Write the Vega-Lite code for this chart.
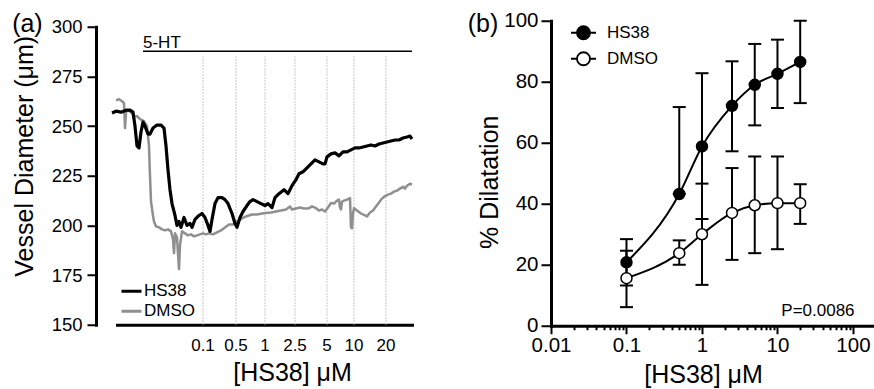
{
  "$schema": "https://vega.github.io/schema/vega-lite/v6.json",
  "padding": {"left": 12, "top": 10.75, "right": 0, "bottom": 0},
  "config": {
    "font": "Liberation Sans",
    "view": {"stroke": null},
    "axis": {"domainColor": "#000", "tickColor": "#000", "labelColor": "#000", "titleColor": "#000", "grid": false, "titleFontWeight": "normal", "domainWidth": 3, "tickWidth": 2, "domainCap": "square"},
    "title": {"fontWeight": "normal", "fontSize": 25, "color": "#000"},
    "legend": {"labelColor": "#000"}
  },
  "datasets": {
    "conc": [
      {"t": 86, "label": "0.1"}, {"t": 119, "label": "0.5"}, {"t": 148, "label": "1"}, {"t": 178, "label": "2.5"},
      {"t": 210, "label": "5"}, {"t": 237, "label": "10"}, {"t": 269, "label": "20"}
    ],
    "agonist": [{"label": "5-HT", "t0": 26, "t1": 295, "v": 287.7}],
    "trace": [
      {"s": "HS38", "t": -5, "v": 256.6}, {"s": "HS38", "t": -1, "v": 257.5}, {"s": "HS38", "t": 4, "v": 257}, {"s": "HS38", "t": 9, "v": 258},
      {"s": "HS38", "t": 13, "v": 258}, {"s": "HS38", "t": 16, "v": 257}, {"s": "HS38", "t": 18, "v": 250}, {"s": "HS38", "t": 20, "v": 240},
      {"s": "HS38", "t": 22, "v": 239}, {"s": "HS38", "t": 24, "v": 247}, {"s": "HS38", "t": 26, "v": 252}, {"s": "HS38", "t": 28, "v": 250},
      {"s": "HS38", "t": 31, "v": 246}, {"s": "HS38", "t": 33, "v": 246}, {"s": "HS38", "t": 36, "v": 249}, {"s": "HS38", "t": 40, "v": 250.5},
      {"s": "HS38", "t": 44, "v": 250.5}, {"s": "HS38", "t": 47, "v": 249}, {"s": "HS38", "t": 49, "v": 240}, {"s": "HS38", "t": 51, "v": 228},
      {"s": "HS38", "t": 53, "v": 218}, {"s": "HS38", "t": 55, "v": 211}, {"s": "HS38", "t": 58, "v": 205}, {"s": "HS38", "t": 60, "v": 200},
      {"s": "HS38", "t": 62, "v": 202}, {"s": "HS38", "t": 64, "v": 199}, {"s": "HS38", "t": 67, "v": 204}, {"s": "HS38", "t": 70, "v": 200},
      {"s": "HS38", "t": 73, "v": 201}, {"s": "HS38", "t": 75, "v": 199}, {"s": "HS38", "t": 78, "v": 203}, {"s": "HS38", "t": 82, "v": 205},
      {"s": "HS38", "t": 85, "v": 206}, {"s": "HS38", "t": 88, "v": 204}, {"s": "HS38", "t": 91, "v": 200}, {"s": "HS38", "t": 93, "v": 197},
      {"s": "HS38", "t": 95, "v": 203}, {"s": "HS38", "t": 98, "v": 211}, {"s": "HS38", "t": 101, "v": 214}, {"s": "HS38", "t": 105, "v": 214},
      {"s": "HS38", "t": 108, "v": 213}, {"s": "HS38", "t": 111, "v": 211}, {"s": "HS38", "t": 115, "v": 206}, {"s": "HS38", "t": 118, "v": 201},
      {"s": "HS38", "t": 120, "v": 199}, {"s": "HS38", "t": 123, "v": 204}, {"s": "HS38", "t": 126, "v": 207}, {"s": "HS38", "t": 130, "v": 210},
      {"s": "HS38", "t": 133, "v": 212}, {"s": "HS38", "t": 136, "v": 213}, {"s": "HS38", "t": 140, "v": 212}, {"s": "HS38", "t": 144, "v": 211},
      {"s": "HS38", "t": 148, "v": 210}, {"s": "HS38", "t": 151, "v": 211}, {"s": "HS38", "t": 155, "v": 209}, {"s": "HS38", "t": 158, "v": 214},
      {"s": "HS38", "t": 162, "v": 216}, {"s": "HS38", "t": 167, "v": 218}, {"s": "HS38", "t": 171, "v": 216}, {"s": "HS38", "t": 175, "v": 220},
      {"s": "HS38", "t": 179, "v": 223}, {"s": "HS38", "t": 182, "v": 226}, {"s": "HS38", "t": 186, "v": 227}, {"s": "HS38", "t": 190, "v": 229},
      {"s": "HS38", "t": 194, "v": 231}, {"s": "HS38", "t": 198, "v": 233}, {"s": "HS38", "t": 202, "v": 232}, {"s": "HS38", "t": 206, "v": 231},
      {"s": "HS38", "t": 208, "v": 231}, {"s": "HS38", "t": 210, "v": 234.5}, {"s": "HS38", "t": 214, "v": 236}, {"s": "HS38", "t": 218, "v": 236.5},
      {"s": "HS38", "t": 222, "v": 235}, {"s": "HS38", "t": 226, "v": 237}, {"s": "HS38", "t": 230, "v": 237}, {"s": "HS38", "t": 234, "v": 238},
      {"s": "HS38", "t": 238, "v": 239}, {"s": "HS38", "t": 242, "v": 239}, {"s": "HS38", "t": 246, "v": 239.5}, {"s": "HS38", "t": 250, "v": 240},
      {"s": "HS38", "t": 254, "v": 240.5}, {"s": "HS38", "t": 258, "v": 240}, {"s": "HS38", "t": 262, "v": 241}, {"s": "HS38", "t": 266, "v": 241.5},
      {"s": "HS38", "t": 270, "v": 242}, {"s": "HS38", "t": 274, "v": 242.5}, {"s": "HS38", "t": 278, "v": 243}, {"s": "HS38", "t": 282, "v": 243},
      {"s": "HS38", "t": 286, "v": 244}, {"s": "HS38", "t": 290, "v": 244.5}, {"s": "HS38", "t": 293, "v": 245}, {"s": "HS38", "t": 295, "v": 243.5},
      {"s": "DMSO", "t": -1, "v": 263}, {"s": "DMSO", "t": 2, "v": 263.5}, {"s": "DMSO", "t": 5, "v": 262.5}, {"s": "DMSO", "t": 7, "v": 261.5},
      {"s": "DMSO", "t": 8, "v": 249}, {"s": "DMSO", "t": 9, "v": 257}, {"s": "DMSO", "t": 11, "v": 258}, {"s": "DMSO", "t": 14, "v": 257},
      {"s": "DMSO", "t": 17, "v": 255}, {"s": "DMSO", "t": 20, "v": 255}, {"s": "DMSO", "t": 23, "v": 253.5}, {"s": "DMSO", "t": 27, "v": 252.5},
      {"s": "DMSO", "t": 30, "v": 250}, {"s": "DMSO", "t": 32, "v": 240}, {"s": "DMSO", "t": 33, "v": 225}, {"s": "DMSO", "t": 34, "v": 212},
      {"s": "DMSO", "t": 36, "v": 205}, {"s": "DMSO", "t": 37, "v": 202}, {"s": "DMSO", "t": 39, "v": 199.5}, {"s": "DMSO", "t": 42, "v": 199},
      {"s": "DMSO", "t": 45, "v": 198}, {"s": "DMSO", "t": 48, "v": 197.5}, {"s": "DMSO", "t": 51, "v": 198}, {"s": "DMSO", "t": 54, "v": 197},
      {"s": "DMSO", "t": 56, "v": 193}, {"s": "DMSO", "t": 57, "v": 186}, {"s": "DMSO", "t": 58, "v": 196}, {"s": "DMSO", "t": 60, "v": 194},
      {"s": "DMSO", "t": 62, "v": 178}, {"s": "DMSO", "t": 63, "v": 190}, {"s": "DMSO", "t": 65, "v": 197}, {"s": "DMSO", "t": 68, "v": 196},
      {"s": "DMSO", "t": 71, "v": 195}, {"s": "DMSO", "t": 74, "v": 195.5}, {"s": "DMSO", "t": 77, "v": 194.5}, {"s": "DMSO", "t": 80, "v": 195},
      {"s": "DMSO", "t": 83, "v": 195.5}, {"s": "DMSO", "t": 86, "v": 196}, {"s": "DMSO", "t": 89, "v": 195.5}, {"s": "DMSO", "t": 92, "v": 196},
      {"s": "DMSO", "t": 96, "v": 195.5}, {"s": "DMSO", "t": 100, "v": 196.5}, {"s": "DMSO", "t": 104, "v": 197.5}, {"s": "DMSO", "t": 108, "v": 199},
      {"s": "DMSO", "t": 112, "v": 200.5}, {"s": "DMSO", "t": 116, "v": 200.5}, {"s": "DMSO", "t": 120, "v": 202}, {"s": "DMSO", "t": 125, "v": 203.5},
      {"s": "DMSO", "t": 129, "v": 204.5}, {"s": "DMSO", "t": 135, "v": 205.5}, {"s": "DMSO", "t": 140, "v": 205.5}, {"s": "DMSO", "t": 145, "v": 206},
      {"s": "DMSO", "t": 149, "v": 206.3}, {"s": "DMSO", "t": 154, "v": 206.5}, {"s": "DMSO", "t": 159, "v": 207}, {"s": "DMSO", "t": 164, "v": 207.5},
      {"s": "DMSO", "t": 169, "v": 208}, {"s": "DMSO", "t": 173, "v": 209.5}, {"s": "DMSO", "t": 175, "v": 208}, {"s": "DMSO", "t": 179, "v": 208.5},
      {"s": "DMSO", "t": 183, "v": 209}, {"s": "DMSO", "t": 187, "v": 208.5}, {"s": "DMSO", "t": 192, "v": 208.7}, {"s": "DMSO", "t": 195, "v": 209.6},
      {"s": "DMSO", "t": 198, "v": 209}, {"s": "DMSO", "t": 202, "v": 207.5}, {"s": "DMSO", "t": 205, "v": 208}, {"s": "DMSO", "t": 208, "v": 207},
      {"s": "DMSO", "t": 211, "v": 209}, {"s": "DMSO", "t": 214, "v": 211.3}, {"s": "DMSO", "t": 217, "v": 211}, {"s": "DMSO", "t": 220, "v": 212.5},
      {"s": "DMSO", "t": 222, "v": 213}, {"s": "DMSO", "t": 223, "v": 209}, {"s": "DMSO", "t": 224, "v": 208}, {"s": "DMSO", "t": 225, "v": 212},
      {"s": "DMSO", "t": 227, "v": 212.5}, {"s": "DMSO", "t": 230, "v": 213}, {"s": "DMSO", "t": 233, "v": 213.8}, {"s": "DMSO", "t": 234, "v": 199},
      {"s": "DMSO", "t": 235, "v": 198.5}, {"s": "DMSO", "t": 236, "v": 206}, {"s": "DMSO", "t": 237, "v": 208.7}, {"s": "DMSO", "t": 240, "v": 207.5},
      {"s": "DMSO", "t": 244, "v": 206}, {"s": "DMSO", "t": 248, "v": 205}, {"s": "DMSO", "t": 250, "v": 204.5}, {"s": "DMSO", "t": 253, "v": 206.5},
      {"s": "DMSO", "t": 256, "v": 207.5}, {"s": "DMSO", "t": 259, "v": 209.5}, {"s": "DMSO", "t": 262, "v": 211.5}, {"s": "DMSO", "t": 265, "v": 213.5},
      {"s": "DMSO", "t": 268, "v": 214.8}, {"s": "DMSO", "t": 271, "v": 215.5}, {"s": "DMSO", "t": 274, "v": 216}, {"s": "DMSO", "t": 277, "v": 217},
      {"s": "DMSO", "t": 280, "v": 217.5}, {"s": "DMSO", "t": 283, "v": 218.5}, {"s": "DMSO", "t": 286, "v": 219.5}, {"s": "DMSO", "t": 288, "v": 218.5},
      {"s": "DMSO", "t": 290, "v": 220}, {"s": "DMSO", "t": 293, "v": 221}, {"s": "DMSO", "t": 295, "v": 220.5}
    ],
    "dose": [
      {"s": "HS38", "c": 0.1, "m": 20.8, "lo": 13.2, "hi": 28.4},
      {"s": "HS38", "c": 0.5, "m": 43.2, "lo": 43.2, "hi": 71.7},
      {"s": "HS38", "c": 1, "m": 58.8, "lo": 35, "hi": 82.8},
      {"s": "HS38", "c": 2.5, "m": 72.1, "lo": 57.2, "hi": 86.7},
      {"s": "HS38", "c": 5, "m": 79, "lo": 65.7, "hi": 92.4},
      {"s": "HS38", "c": 10, "m": 82.6, "lo": 71.4, "hi": 93.8},
      {"s": "HS38", "c": 20, "m": 86.5, "lo": 73, "hi": 100},
      {"s": "DMSO", "c": 0.1, "m": 15.6, "lo": 6.1, "hi": 24.6},
      {"s": "DMSO", "c": 0.5, "m": 23.8, "lo": 20, "hi": 28},
      {"s": "DMSO", "c": 1, "m": 30, "lo": 13.4, "hi": 46.6},
      {"s": "DMSO", "c": 2.5, "m": 37, "lo": 21.6, "hi": 51.7},
      {"s": "DMSO", "c": 5, "m": 39.5, "lo": 23.8, "hi": 55.5},
      {"s": "DMSO", "c": 10, "m": 40.2, "lo": 25.1, "hi": 55.5},
      {"s": "DMSO", "c": 20, "m": 40.2, "lo": 33.4, "hi": 46.4}
    ],
    "stat": [{"label": "P=0.0086"}]
  },
  "spacing": 53,
  "resolve": {"scale": {"color": "independent", "fill": "independent"}, "legend": {"color": "independent", "fill": "independent"}},
  "hconcat": [
    {
      "width": 295,
      "height": 304,
      "title": {"text": "(a)", "anchor": "start", "frame": "bounds", "fontSize": 25, "baseline": "alphabetic", "offset": -38.75},
      "layer": [
        {
          "data": {"name": "conc"},
          "mark": {"type": "rule", "color": "#b5b5b5", "strokeWidth": 1, "strokeDash": [1.5, 1.5]},
          "encoding": {
            "x": {"field": "t", "type": "quantitative", "scale": {"domain": [0, 295], "nice": false, "zero": false},
                  "axis": {"domain": true, "domainColor": "#000", "domainWidth": 3, "labels": false, "ticks": false, "tickSize": 0,
                           "title": "[HS38] μM", "titleFontSize": 25, "titlePadding": 36, "titleX": 175}},
            "y": {"datum": 150, "type": "quantitative", "scale": {"domain": [150, 300], "nice": false, "zero": false, "range": [304, 6]},
                  "axis": {"values": [150, 175, 200, 225, 250, 275, 300], "offset": 21, "tickSize": 9, "labelFontSize": 18.5, "labelPadding": 5,
                           "title": "Vessel Diameter (μm)", "titleFontSize": 25, "titlePadding": 14, "titleY": 135}},
            "y2": {"datum": 285}
          }
        },
        {
          "data": {"name": "conc"},
          "mark": {"type": "text", "fontSize": 17, "baseline": "top", "dy": 13, "color": "#000"},
          "encoding": {
            "x": {"field": "t", "type": "quantitative"},
            "y": {"datum": 150, "type": "quantitative"},
            "text": {"field": "label"}
          }
        },
        {
          "data": {"name": "agonist"},
          "mark": {"type": "rule", "strokeWidth": 1.5, "color": "#000"},
          "encoding": {
            "x": {"field": "t0", "type": "quantitative"},
            "x2": {"field": "t1"},
            "y": {"field": "v", "type": "quantitative"}
          }
        },
        {
          "data": {"name": "agonist"},
          "mark": {"type": "text", "align": "left", "baseline": "alphabetic", "fontSize": 17, "dy": -3.5, "color": "#000"},
          "encoding": {
            "x": {"field": "t0", "type": "quantitative"},
            "y": {"field": "v", "type": "quantitative"},
            "text": {"field": "label"}
          }
        },
        {
          "data": {"name": "trace"},
          "transform": [{"filter": "datum.s == 'DMSO'"}],
          "mark": {"type": "line", "strokeWidth": 2.5, "strokeJoin": "round"},
          "encoding": {
            "x": {"field": "t", "type": "quantitative"},
            "y": {"field": "v", "type": "quantitative"},
            "color": {"field": "s", "type": "nominal", "scale": {"domain": ["HS38", "DMSO"], "range": ["#000000", "#8f8f8f"]},
                      "legend": {"orient": "none", "legendX": 3, "legendY": 259, "title": null, "symbolType": "stroke", "symbolSize": 400,
                                 "symbolStrokeWidth": 3, "labelFontSize": 17, "labelOffset": 1, "rowPadding": 0, "padding": 0}}
          }
        },
        {
          "data": {"name": "trace"},
          "transform": [{"filter": "datum.s == 'HS38'"}],
          "mark": {"type": "line", "strokeWidth": 3.2, "strokeJoin": "round"},
          "encoding": {
            "x": {"field": "t", "type": "quantitative"},
            "y": {"field": "v", "type": "quantitative"},
            "color": {"field": "s", "type": "nominal"}
          }
        }
      ]
    },
    {
      "width": 323,
      "height": 305,
      "title": {"text": "(b)", "anchor": "start", "frame": "bounds", "fontSize": 25, "baseline": "alphabetic", "offset": -46.25, "dx": -10},
      "layer": [
        {
          "data": {"name": "dose"},
          "mark": {"type": "rule", "strokeWidth": 2, "color": "#000"},
          "encoding": {
            "x": {"field": "c", "type": "quantitative", "scale": {"type": "log", "domain": [0.01, 190], "nice": false},
                  "axis": {"values": [0.01,0.02,0.03,0.04,0.05,0.06,0.07,0.08,0.09,0.1,0.2,0.3,0.4,0.5,0.6,0.7,0.8,0.9,1,2,3,4,5,6,7,8,9,10,20,30,40,50,60,70,80,90,100],
                           "labelExpr": "datum.value == 0.01 ? '0.01' : datum.value == 0.1 ? '0.1' : datum.value == 1 ? '1' : datum.value == 10 ? '10' : datum.value == 100 ? '100' : ''",
                           "tickSize": {"condition": {"test": "indexof([0.01,0.1,1,10,100], datum.value) >= 0", "value": 8}, "value": 4},
                           "labelFontSize": 20.5, "labelPadding": 2, "labelFlush": false, "labelOverlap": false,
                           "title": "[HS38] μM", "titleFontSize": 25, "titlePadding": 6, "titleX": 152}},
            "y": {"field": "lo", "type": "quantitative", "scale": {"domain": [0, 100], "nice": false},
                  "axis": {"values": [0, 20, 40, 60, 80, 100], "tickSize": 10, "labelFontSize": 20.5, "labelPadding": 3,
                           "title": "% Dilatation", "titleFontSize": 25, "titlePadding": 1, "titleY": 161}},
            "y2": {"field": "hi"},
            "detail": {"field": "s"}
          }
        },
        {
          "data": {"name": "dose"},
          "mark": {"type": "tick", "orient": "horizontal", "size": 13, "thickness": 2, "color": "#000", "opacity": 1},
          "encoding": {
            "x": {"field": "c", "type": "quantitative"},
            "y": {"field": "lo", "type": "quantitative"}
          }
        },
        {
          "data": {"name": "dose"},
          "mark": {"type": "tick", "orient": "horizontal", "size": 13, "thickness": 2, "color": "#000", "opacity": 1},
          "encoding": {
            "x": {"field": "c", "type": "quantitative"},
            "y": {"field": "hi", "type": "quantitative"}
          }
        },
        {
          "data": {"name": "dose"},
          "mark": {"type": "line", "interpolate": "monotone", "strokeWidth": 2, "color": "#000"},
          "encoding": {
            "x": {"field": "c", "type": "quantitative"},
            "y": {"field": "m", "type": "quantitative"},
            "detail": {"field": "s"}
          }
        },
        {
          "data": {"name": "dose"},
          "mark": {"type": "point", "shape": "circle", "filled": true, "size": 120, "stroke": "#000", "strokeWidth": 1.5, "opacity": 1},
          "encoding": {
            "x": {"field": "c", "type": "quantitative"},
            "y": {"field": "m", "type": "quantitative"},
            "fill": {"field": "s", "type": "nominal", "scale": {"domain": ["HS38", "DMSO"], "range": ["#000000", "#ffffff"]},
                     "legend": {"orient": "none", "legendX": 19, "legendY": -1.5, "title": null,
                                "symbolType": "M-1,0L-0.52,0M0.52,0L1,0M0.52,0A0.52,0.52 0 1 1 -0.52,0A0.52,0.52 0 1 1 0.52,0Z",
                                "symbolSize": 625, "symbolStrokeColor": "#000", "symbolStrokeWidth": 1.8, "symbolOpacity": 1,
                                "labelFontSize": 17, "labelOffset": 10, "rowPadding": 2, "padding": 0}}
          }
        },
        {
          "data": {"name": "stat"},
          "mark": {"type": "text", "align": "right", "baseline": "middle", "fontSize": 17, "color": "#000"},
          "encoding": {
            "x": {"datum": 105, "type": "quantitative"},
            "y": {"datum": 5, "type": "quantitative"},
            "text": {"field": "label"}
          }
        }
      ]
    }
  ]
}
